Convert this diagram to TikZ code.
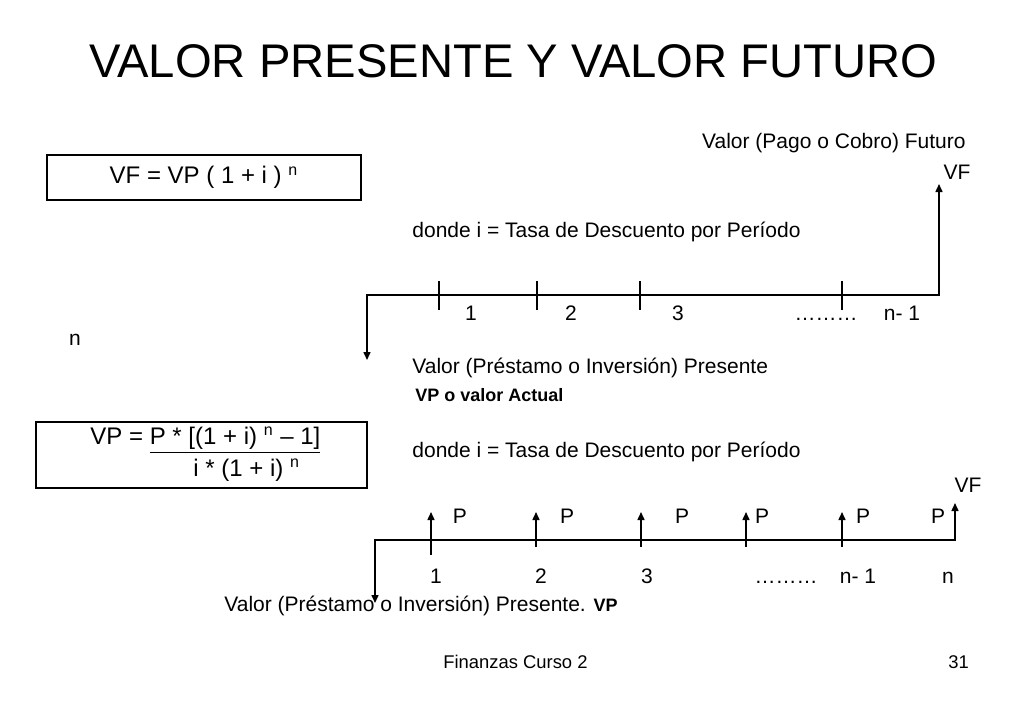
\documentclass[tikz,border=0pt]{standalone}
\usepackage{fontspec}
\setmainfont{Liberation Sans}
\usetikzlibrary{arrows.meta}
\newcommand\expo[1]{\textsuperscript{#1}}
\tikzset{
  txt/.style={inner sep=0pt, font=\fontsize{10.5}{12.6}\selectfont},
  formula/.style={inner sep=0pt, font=\fontsize{12}{14}\selectfont},
  caja/.style={draw, line width=0.7pt, inner sep=0pt},
  linea/.style={line width=0.75pt},
  >={Triangle[length=4pt,width=3.5pt]}
}

\begin{document}
\begin{tikzpicture}[x=0.5pt,y=-0.5pt]
  \useasboundingbox (0,0) rectangle (1024,709);
  \node[anchor=base, inner sep=0pt, font=\fontsize{23.6}{28}\selectfont] (titulo) at (513.5,77) {VALOR PRESENTE Y VALOR FUTURO};

  % pago unico
  \node[caja, minimum width=157pt, minimum height=22.5pt] (formulaVF) at (204,177.5) {};
  \node[formula] (textoVF) at (formulaVF) {VF = VP ( 1 + i ) \expo{n}};
  \node[txt, anchor=east] (futuro) at (966,143) {Valor (Pago o Cobro) Futuro};
  \node[txt] (vf1) at (957,172) {VF};
  \node[txt, anchor=west] (donde1) at (412,232) {donde i = Tasa de Descuento por Período};

  \coordinate (a0) at (367,295);
  \coordinate (aN) at (939,295);
  \coordinate (aVP) at (367,360);
  \coordinate (aVF) at (939,184);
  \draw[linea, <->] (aVP) -- (a0) -- (aN) -- (aVF);
  \foreach \x in {439,537,640,842}
    \draw[linea] (\x,281) -- (\x,310);
  \foreach \x/\t [count=\i] in {471/1,571/2,678/3,826/………,902/n- 1}
    \node[txt, anchor=base] (per\i) at (\x,320) {\t};

  \node[txt] (n) at (75,340) {n};
  \node[txt, anchor=west] (presente1) at (412,368) {Valor (Préstamo o Inversión) Presente};
  \node[txt, anchor=west, font=\fontsize{9}{11}\selectfont\bfseries] (actual) at (415,395) {VP o valor Actual};

  % anualidad
  \node[caja, minimum width=165.5pt, minimum height=33pt] (formulaVP) at (201.5,455) {};
  \node[formula, anchor=west] (numerador) at (90,440) {VP = \underline{P * [(1 + i) \expo{n} – 1]}};
  \node[formula, anchor=west] (denominador) at (193,470) {i * (1 + i) \expo{n}};
  \node[txt, anchor=west] (donde2) at (412,452) {donde i = Tasa de Descuento por Período};
  \node[txt] (vf2) at (968,485) {VF};

  \coordinate (b0) at (375,540);
  \coordinate (bN) at (955,540);
  \coordinate (bVP) at (375,603);
  \coordinate (bVF) at (955,503);
  \draw[linea, <->] (bVP) -- (b0) -- (bN) -- (bVF);
  \foreach \x/\y in {431/555,536/547,641/547,746/547,842/547}
    \draw[linea, ->] (\x,\y) -- (\x,512);
  \foreach \x [count=\i] in {460,567,682,762,863,938}
    \node[txt] (pago\i) at (\x,516) {P};
  \foreach \x/\t [count=\i] in {436/1,541/2,647/3,786/………,858/n- 1,948/n}
    \node[txt, anchor=base] (t\i) at (\x,583) {\t};
  \node[txt, anchor=west] (presente2) at (224,606) {Valor (Préstamo o Inversión) Presente. {\fontsize{9}{11}\selectfont\bfseries VP}};

  \node[txt, anchor=west, font=\fontsize{9.2}{11}\selectfont] (pie) at (443,662) {Finanzas Curso 2};
  \node[txt, anchor=west, font=\fontsize{9.2}{11}\selectfont] (pagina) at (948,662) {31};
\end{tikzpicture}
\end{document}
